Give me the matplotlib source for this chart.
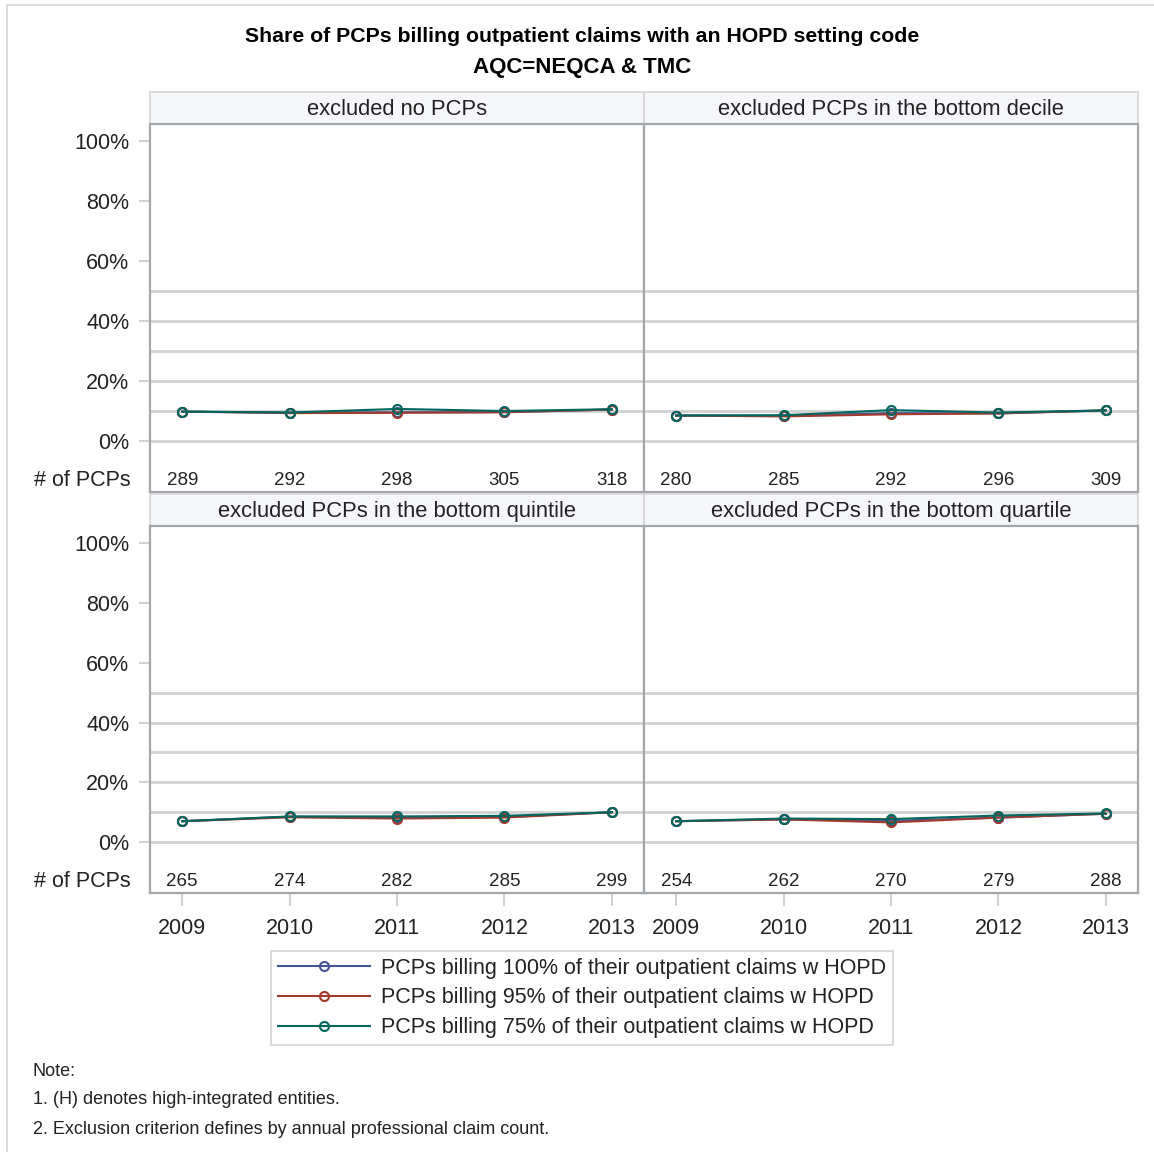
import matplotlib
matplotlib.use("Agg")
import matplotlib.pyplot as plt
from matplotlib.patches import Rectangle
from matplotlib.lines import Line2D
import matplotlib.transforms as mtransforms

plt.rcParams['font.family'] = ['Liberation Sans', 'DejaVu Sans']

years = [2009, 2010, 2011, 2012, 2013]

panel_titles = ['excluded no PCPs', 'excluded PCPs in the bottom decile',
                'excluded PCPs in the bottom quintile', 'excluded PCPs in the bottom quartile']

# number of PCPs per year in each panel
pcp_counts = [
    [289, 292, 298, 305, 318],
    [280, 285, 292, 296, 309],
    [265, 274, 282, 285, 299],
    [254, 262, 270, 279, 288],
]

series_names = ['PCPs billing 100% of their outpatient claims w HOPD',
                'PCPs billing 95% of their outpatient claims w HOPD',
                'PCPs billing 75% of their outpatient claims w HOPD']
series_colors = ['#445694', '#A23A2E', '#01665E']

# share (%) per panel, one list per series
share_100 = [
    [9.8, 9.5, 9.6, 9.6, 10.5],
    [8.5, 8.4, 9.3, 9.2, 10.2],
    [7.0, 8.5, 8.3, 8.4, 10.0],
    [7.0, 7.6, 7.1, 8.2, 9.5],
]
share_95 = [
    [9.8, 9.3, 9.4, 9.6, 10.5],
    [8.5, 8.2, 8.9, 9.2, 10.2],
    [7.0, 8.3, 7.9, 8.2, 10.0],
    [7.0, 7.6, 6.6, 8.2, 9.5],
]
share_75 = [
    [9.8, 9.5, 10.7, 10.0, 10.6],
    [8.5, 8.6, 10.3, 9.5, 10.2],
    [7.0, 8.6, 8.6, 8.8, 10.0],
    [7.0, 7.9, 7.7, 8.9, 9.6],
]
shares = [share_100, share_95, share_75]

W, H = 1154, 1152
fig = plt.figure(figsize=(W / 100, H / 100), dpi=100)


def px_rect(x0, y0, x1, y1):
    return [x0 / W, 1 - y1 / H, (x1 - x0) / W, (y1 - y0) / H]


# outer frame
fig.add_artist(Rectangle((7 / W, -0.01), 1.1, 1 - 5 / H + 0.01, transform=fig.transFigure,
                         fill=False, edgecolor='#d4d4d4', lw=1.2))

fig.text(582 / W, 1 - 37 / H, 'Share of PCPs billing outpatient claims with an HOPD setting code',
         ha='center', va='center', fontsize=15.3, fontweight='bold', color='black')
fig.text(582 / W, 1 - 67 / H, 'AQC=NEQCA & TMC',
         ha='center', va='center', fontsize=16, fontweight='bold', color='black')

cols = [(150, 644), (644, 1138)]
rows = [(92, 124, 492), (494, 526, 893)]
frame_col = '#a3a7ab'
grid_col = '#d2d2d2'
txt_col = '#222222'

for i in range(4):
    r, c = divmod(i, 2)
    x0, x1 = cols[c]
    hy0, y0, y1 = rows[r]

    # panel header strip
    hax = fig.add_axes(px_rect(x0, hy0, x1, y0))
    hax.set_facecolor('#f6f7fb')
    hax.set_xticks([])
    hax.set_yticks([])
    for s in hax.spines.values():
        s.set_color('#d6d6d6')
        s.set_linewidth(1.2)
    hax.text(0.5, 0.45, panel_titles[i], ha='center', va='center', fontsize=15.8,
             color=txt_col, transform=hax.transAxes)

    ax = fig.add_axes(px_rect(x0, y0, x1, y1))
    ax.set_xlim(2008.7, 2013.3)
    ax.set_ylim(-17, 105.7)
    for g in range(0, 51, 10):
        ax.axhline(g, color=grid_col, lw=2, zorder=1)

    for k in range(3):
        ax.plot(years, shares[k][i], color=series_colors[k], lw=1.5, marker='o',
                markersize=6.5, markerfacecolor='none', markeredgewidth=1.5, zorder=3 + k)

    for yr, n in zip(years, pcp_counts[i]):
        ax.text(yr, -13, str(n), ha='center', va='center', fontsize=13.5, color=txt_col)

    for s in ax.spines.values():
        s.set_color(frame_col)
        s.set_linewidth(1.6)

    ax.set_yticks([0, 20, 40, 60, 80, 100])
    if c == 0:
        ax.set_yticklabels(['0%', '20%', '40%', '60%', '80%', '100%'])
        ax.tick_params(axis='y', length=8, width=1.5, color=grid_col, pad=7,
                       labelsize=15.5, labelcolor=txt_col)
        ax.text(-0.04, -13, '# of PCPs', ha='right', va='center', fontsize=15.5, color=txt_col,
                transform=mtransforms.blended_transform_factory(ax.transAxes, ax.transData))
    else:
        ax.tick_params(axis='y', length=0, labelleft=False)

    ax.set_xticks(years)
    if r == 1:
        ax.tick_params(axis='x', length=9, width=1.5, color=grid_col, pad=9,
                       labelsize=15.5, labelcolor=txt_col)
    else:
        ax.tick_params(axis='x', length=0, labelbottom=False)

handles = [Line2D([], [], color=series_colors[k], lw=1.5, marker='o', markersize=6.5,
                  markerfacecolor='none', markeredgewidth=1.5) for k in range(3)]
leg = fig.legend(handles, series_names, loc='center', bbox_to_anchor=(582 / W, 1 - 998 / H),
                 frameon=True, fancybox=False, fontsize=15.5, handlelength=4.3, handletextpad=0.5,
                 labelspacing=0.4, borderpad=0.3, borderaxespad=0)
leg.get_frame().set_edgecolor('#c8c8c8')
leg.get_frame().set_linewidth(1.2)
for t in leg.get_texts():
    t.set_color(txt_col)

notes = ['Note:', '1. (H) denotes high-integrated entities.',
         '2. Exclusion criterion defines by annual professional claim count.']
for j, note in enumerate(notes):
    fig.text(33 / W, 1 - (1071 + 29 * j) / H, note, ha='left', va='center', fontsize=13,
             color=txt_col)

fig.savefig('out.png', dpi=100)
